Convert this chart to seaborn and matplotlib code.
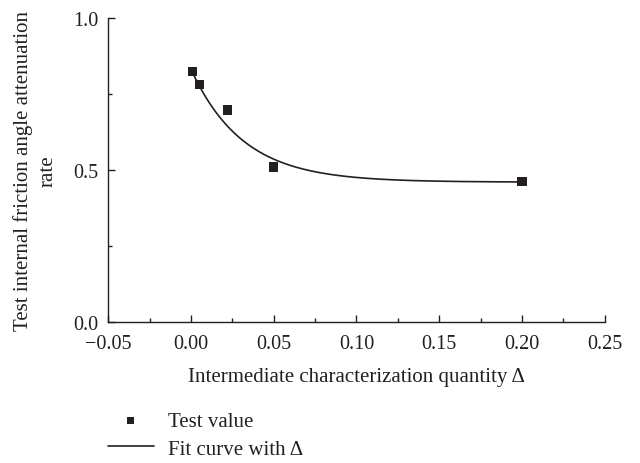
import numpy as np
import pandas as pd
import matplotlib
matplotlib.use("Agg")
import matplotlib.pyplot as plt
import seaborn as sns

# test points
delta = [0.001, 0.005, 0.022, 0.05, 0.2]
rate = [0.825, 0.782, 0.697, 0.510, 0.463]

# fitted exponential decay: y = y0 + A * exp(-x / t)
y0, A, t = 0.46, 0.372, 0.0314
x_fit = np.linspace(0.001, 0.2, 200)
y_fit = y0 + A * np.exp(-x_fit / t)

pts = pd.DataFrame({"delta": delta, "rate": rate})
fit = pd.DataFrame({"delta": x_fit, "rate": y_fit})

sns.set_style("ticks")
plt.rcParams["font.family"] = ["Liberation Serif", "DejaVu Serif"]

ink = "#231f20"
fs = 14.5
fs_lab = 15

fig = plt.figure(figsize=(6.4, 4.64), dpi=100)
ax = fig.add_axes([0.169, 0.304, 0.776, 0.655])

sns.lineplot(data=fit, x="delta", y="rate", ax=ax, color=ink,
             linewidth=1.2, label="Fit curve with Δ", legend=False)
sns.scatterplot(data=pts, x="delta", y="rate", ax=ax, marker="s", s=45,
                color=ink, edgecolor="none", label="Test value",
                legend=False)

ax.set_xlim(-0.05, 0.25)
ax.set_ylim(0, 1.0)
ax.set_xticks([-0.05, 0.0, 0.05, 0.10, 0.15, 0.20, 0.25])
ax.set_xticklabels(["\u22120.05", "0.00", "0.05", "0.10", "0.15", "0.20", "0.25"])
ax.set_xticks(np.arange(-0.025, 0.25, 0.05), minor=True)
ax.set_yticks([0.0, 0.5, 1.0])
ax.set_yticklabels(["0.0", "0.5", "1.0"])
ax.set_yticks([0.25, 0.75], minor=True)
ax.tick_params(which="both", direction="in", labelsize=fs, color=ink,
               labelcolor=ink, width=1)
ax.tick_params(which="major", length=5)
ax.tick_params(which="minor", length=3)
ax.tick_params(axis="x", pad=9)
ax.tick_params(axis="y", pad=7)
for s in ["top", "right"]:
    ax.spines[s].set_visible(False)
for s in ["left", "bottom"]:
    ax.spines[s].set_color(ink)
    ax.spines[s].set_linewidth(1)

ax.set_xlabel("Intermediate characterization quantity Δ", fontsize=fs_lab,
              color=ink, labelpad=10)
ax.set_ylabel("Test internal friction angle attenuation\nrate", fontsize=fs_lab,
              color=ink, labelpad=11, linespacing=1.4)

h, l = ax.get_legend_handles_labels()
order = [1, 0]
leg = fig.legend([h[i] for i in order], [l[i] for i in order], loc="upper left",
                 bbox_to_anchor=(0.168, 0.112), frameon=False, fontsize=fs_lab,
                 handlelength=2.25, handletextpad=0.65, labelspacing=0.4,
                 borderpad=0, borderaxespad=0, labelcolor=ink, markerscale=0.75)

fig.savefig("out.png", dpi=100)
plt.close(fig)
